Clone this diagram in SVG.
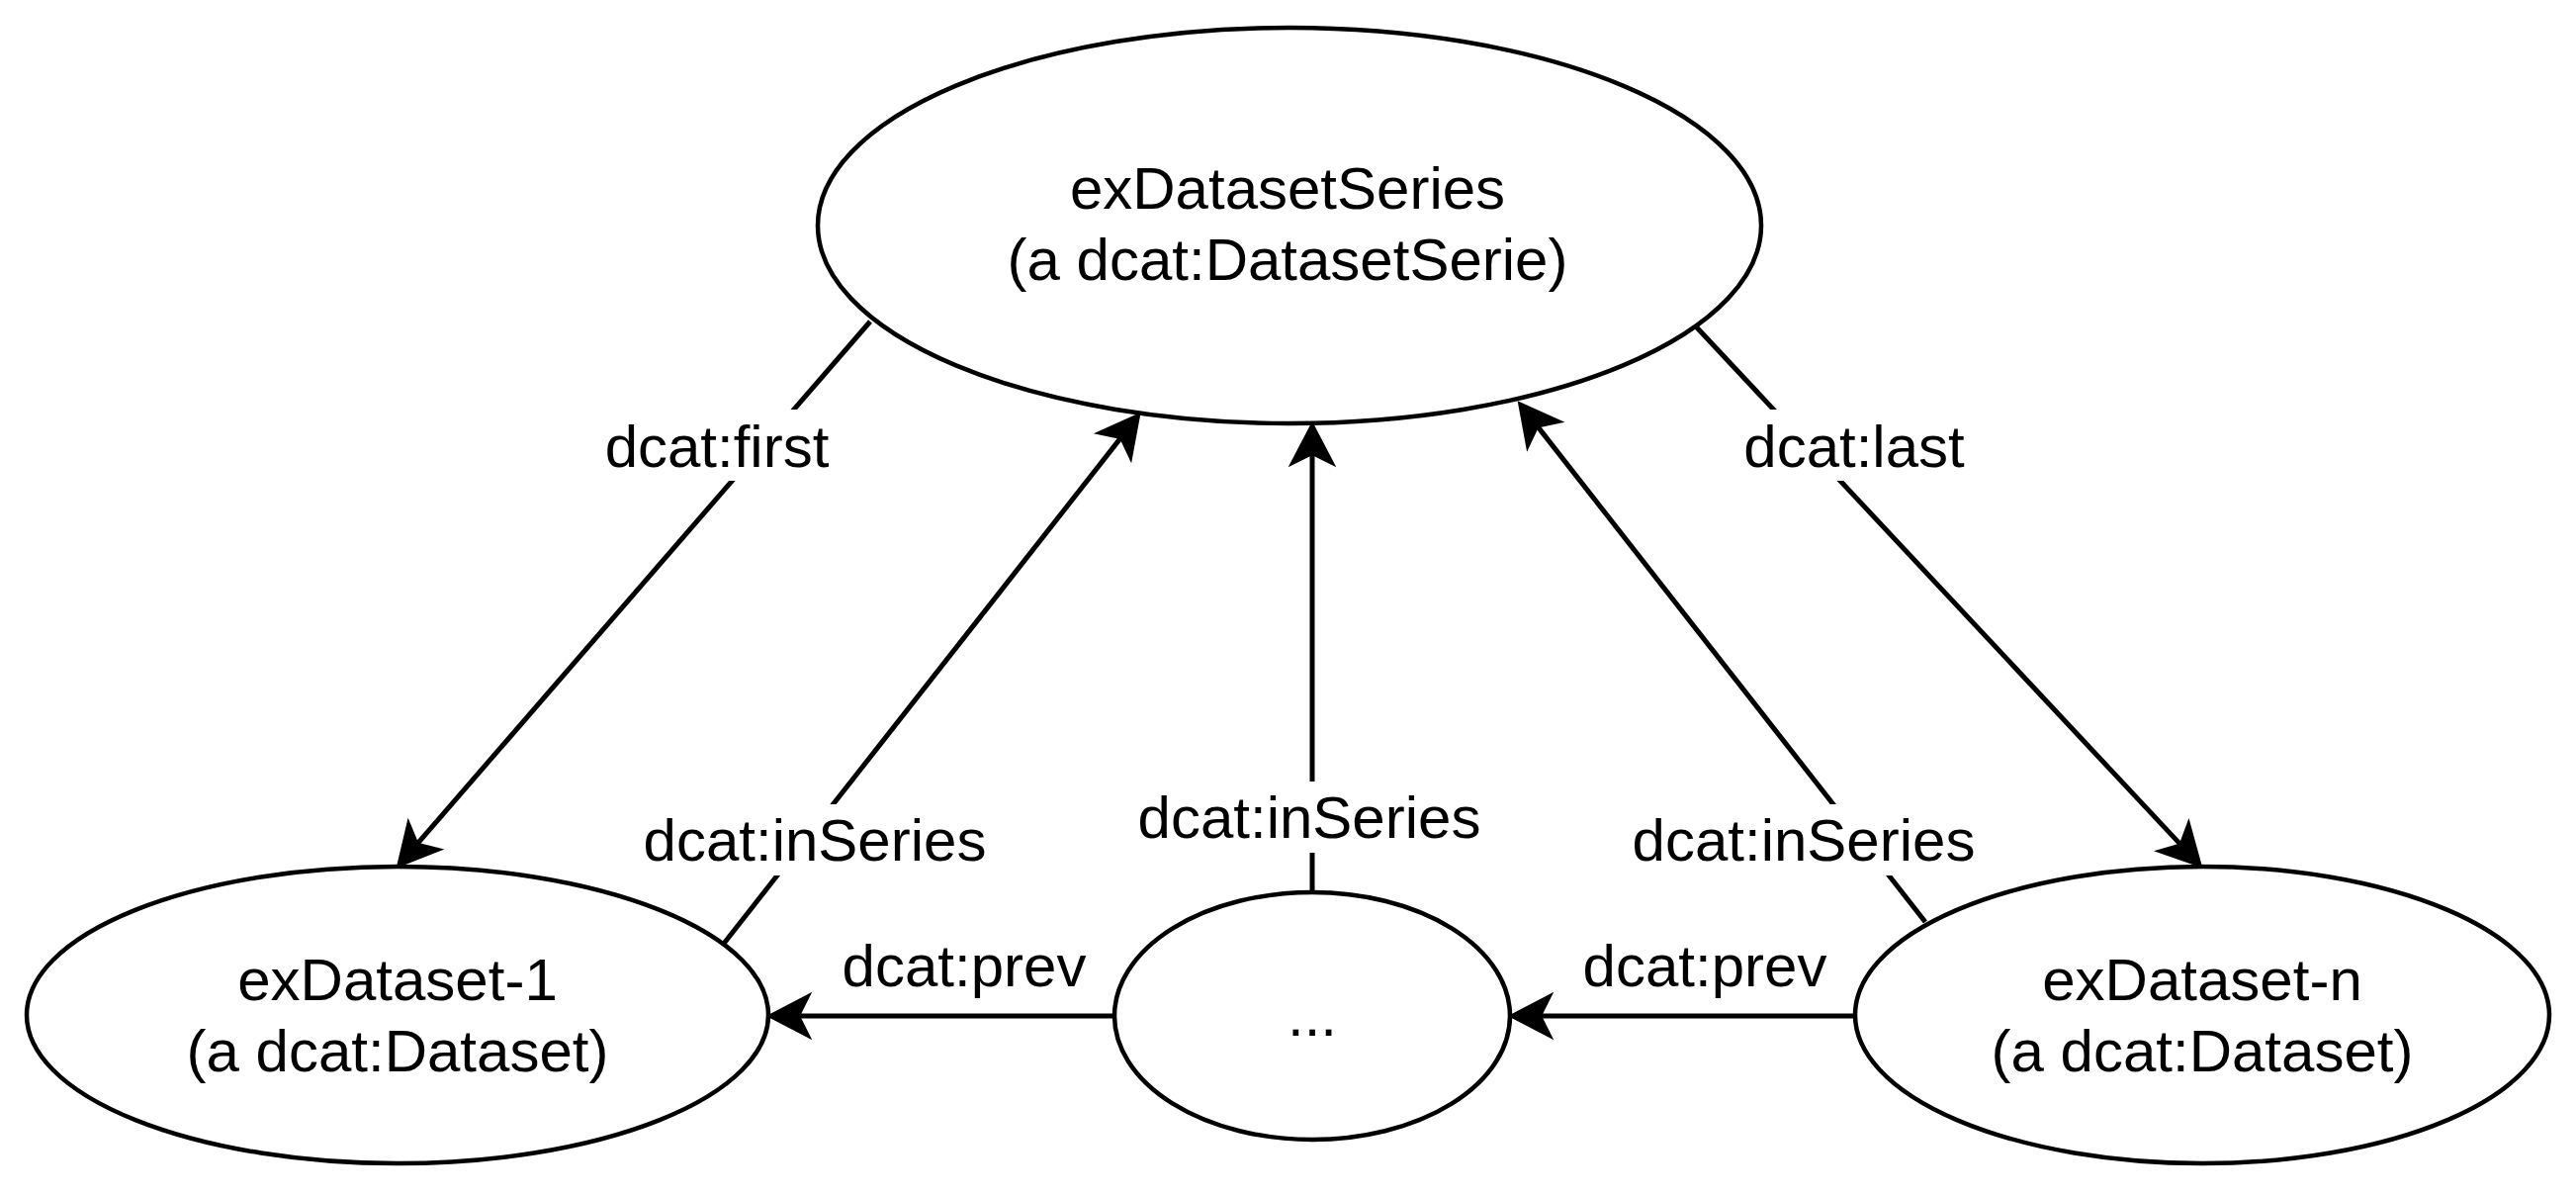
<svg xmlns="http://www.w3.org/2000/svg" width="2605" height="1210" viewBox="0 0 2605 1210">
<style>
.node{fill:#ffffff;stroke:#000000;stroke-width:4.5}
.edge{fill:none;stroke:#000000;stroke-width:5;marker-end:url(#arrow)}
text{font-family:"Liberation Sans",Arial,Helvetica,sans-serif;font-size:60px;fill:#000000;text-anchor:middle}
.lblbg{fill:#ffffff;stroke:none}
</style>
<defs>
<marker id="arrow" markerUnits="userSpaceOnUse" orient="auto" refX="0" refY="0" markerWidth="100" markerHeight="100" overflow="visible">
<path d="M31,0 L-11,-22 L0,0 L-11,22 Z" fill="#000000" stroke="#000000" stroke-width="2" stroke-linejoin="miter"/>
</marker>
</defs>
<rect width="2605" height="1210" fill="#ffffff"/>
<g id="node-series">
<ellipse class="node" cx="1304" cy="228" rx="477" ry="200"/>
<text x="1302" y="211">exDatasetSeries</text>
<text x="1302" y="283">(a dcat:DatasetSerie)</text>
</g>
<g id="node-dataset-1">
<ellipse class="node" cx="402" cy="1026" rx="375" ry="150"/>
<text x="402" y="1011">exDataset-1</text>
<text x="402" y="1083">(a dcat:Dataset)</text>
</g>
<g id="node-dots">
<ellipse class="node" cx="1327" cy="1027" rx="200" ry="125"/>
<text x="1327" y="1047">...</text>
</g>
<g id="node-dataset-n">
<ellipse class="node" cx="2227" cy="1026" rx="351" ry="150"/>
<text x="2227" y="1011">exDataset-n</text>
<text x="2227" y="1083">(a dcat:Dataset)</text>
</g>
<g id="connectors">
<line class="edge" x1="880" y1="325" x2="422.3" y2="852.6"/>
<line class="edge" x1="731" y1="955" x2="1133.2" y2="442.9"/>
<line class="edge" x1="1327" y1="902" x2="1327" y2="459"/>
<line class="edge" x1="1947" y1="932" x2="1555.1" y2="431.4"/>
<line class="edge" x1="1714" y1="329" x2="2204.8" y2="853.4"/>
<line class="edge" x1="1127" y1="1027" x2="808" y2="1027"/>
<line class="edge" x1="1877" y1="1027" x2="1558" y2="1027"/>
<g id="edge-labels">
<rect class="lblbg" x="610" y="414" width="230" height="72"/>
<text x="725" y="472">dcat:first</text>
<rect class="lblbg" x="649" y="813" width="350" height="72"/>
<text x="824" y="870">dcat:inSeries</text>
<rect class="lblbg" x="1149" y="790" width="350" height="72"/>
<text x="1324" y="847">dcat:inSeries</text>
<rect class="lblbg" x="1649" y="813" width="350" height="72"/>
<text x="1824" y="870">dcat:inSeries</text>
<rect class="lblbg" x="1762" y="414" width="227" height="72"/>
<text x="1875" y="472">dcat:last</text>
<rect class="lblbg" x="850" y="940" width="250" height="72"/>
<text x="975" y="997">dcat:prev</text>
<rect class="lblbg" x="1599" y="940" width="250" height="72"/>
<text x="1724" y="997">dcat:prev</text>
</g>
</g>
</svg>
